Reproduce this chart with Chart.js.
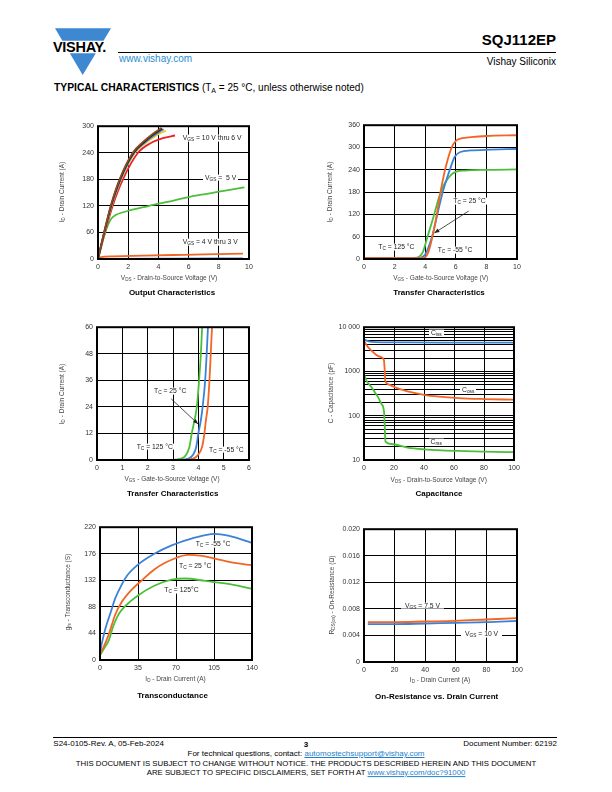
<!DOCTYPE html>
<html>
<head>
<meta charset="utf-8">
<script src="https://cdn.jsdelivr.net/npm/chart.js@4.4.1/dist/chart.umd.min.js"></script>
<style>
  body { margin: 0; width: 612px; height: 792px; position: relative; background: #fff; overflow: hidden;
         font-family: "Liberation Sans", Arial, sans-serif; color: #000; }
  .t { position: absolute; white-space: nowrap; line-height: 1; }
  .c { transform: translate(-50%, -50%); }
  .lc { transform: translateY(-50%); }
  .rc { transform: translate(-100%, -50%); }
  .yt { transform: translate(-50%, -50%) rotate(-90deg); }
  .ax { font-size: 6.5px; color: #444; }
  .cap { font-size: 8px; font-weight: bold; }
  .ann { font-size: 6.8px; color: #222; background: #fff; padding: 0 2px; z-index: 2; }
  sub { font-size: 70%; vertical-align: -0.3em; line-height: 0; }
  canvas { position: absolute; }
  .rule { position: absolute; background: #000; height: 1px; }
  a { color: #1f7fc9; text-decoration: underline; }
</style>
</head>
<body>

<!-- header -->
<svg style="position:absolute;left:0;top:0" width="612" height="100">
  <polygon points="55,28.3 111,28.3 103.5,40.7 62.4,40.7" fill="#3d88d0"/>
  <polygon points="69.8,53.3 95.8,53.3 82.7,75" fill="#3d88d0"/>
</svg>
<div class="t lc" style="left:53px;top:47px;font-size:14.5px;font-weight:bold;letter-spacing:-0.3px">VISHAY.</div>
<div class="rule" style="left:118px;top:52px;width:438px"></div>
<div class="t rc" style="left:556px;top:38.5px;font-size:15px;font-weight:bold">SQJ112EP</div>
<div class="t rc" style="left:556px;top:61.7px;font-size:10px">Vishay Siliconix</div>
<div class="t lc" style="left:119px;top:59px;font-size:10px;color:#2a8dd4">www.vishay.com</div>
<div class="t lc" style="left:54px;top:87.7px;font-size:10px"><b style="font-size:10.3px">TYPICAL CHARACTERISTICS</b> (T<sub>A</sub> = 25 °C, unless otherwise noted)</div>

<!-- charts -->
<canvas id="c1"></canvas>
<canvas id="c2"></canvas>
<canvas id="c3"></canvas>
<canvas id="c4"></canvas>
<canvas id="c5"></canvas>
<canvas id="c6"></canvas>

<!-- chart 1 texts -->
<div class="t yt ax" style="left:62.3px;top:192px">I<sub>D</sub> - Drain Current (A)</div>
<div class="t c ax" style="left:169px;top:278.3px">V<sub>DS</sub> - Drain-to-Source Voltage (V)</div>
<div class="t c cap" style="left:172px;top:293.3px">Output Characteristics</div>
<div class="t lc ann" style="left:180.7px;top:138.3px">V<sub>GS</sub> = 10 V thru 6 V</div>
<div class="t lc ann" style="left:203px;top:177.7px">V<sub>GS</sub> =&nbsp; 5 V</div>
<div class="t lc ann" style="left:180.7px;top:242.3px">V<sub>GS</sub> = 4 V thru 3 V</div>

<!-- chart 2 texts -->
<div class="t yt ax" style="left:329.7px;top:192px">I<sub>D</sub> - Drain Current (A)</div>
<div class="t c ax" style="left:440.7px;top:278.3px">V<sub>GS</sub> - Gate-to-Source Voltage (V)</div>
<div class="t c cap" style="left:439px;top:293.3px">Transfer Characteristics</div>
<div class="t lc ann" style="left:451.3px;top:201px">T<sub>C</sub> = 25 °C</div>
<div class="t lc ann" style="left:376.3px;top:247.3px">T<sub>C</sub> = 125 °C</div>
<div class="t lc ann" style="left:435.7px;top:250px">T<sub>C</sub> = -55 °C</div>

<!-- chart 3 texts -->
<div class="t yt ax" style="left:62.3px;top:394px">I<sub>D</sub> - Drain Current (A)</div>
<div class="t c ax" style="left:172px;top:479.3px">V<sub>GS</sub> - Gate-to-Source Voltage (V)</div>
<div class="t c cap" style="left:172.7px;top:494.3px">Transfer Characteristics</div>
<div class="t lc ann" style="left:152px;top:391px">T<sub>C</sub> = 25 °C</div>
<div class="t lc ann" style="left:134.7px;top:446.7px">T<sub>C</sub> = 125 °C</div>
<div class="t lc ann" style="left:207px;top:449.7px">T<sub>C</sub> = -55 °C</div>

<!-- chart 4 texts -->
<div class="t yt ax" style="left:331px;top:393px">C - Capacitance (pF)</div>
<div class="t c ax" style="left:438.7px;top:479.7px">V<sub>DS</sub> - Drain-to-Source Voltage (V)</div>
<div class="t c cap" style="left:439px;top:494.3px">Capacitance</div>
<div class="t lc ann" style="left:429px;top:333.3px">C<sub>iss</sub></div>
<div class="t lc ann" style="left:460px;top:389.7px">C<sub>oss</sub></div>
<div class="t lc ann" style="left:428.5px;top:441.7px">C<sub>rss</sub></div>

<!-- chart 5 texts -->
<div class="t yt ax" style="left:67.7px;top:592px">g<sub>fs</sub> - Transconductance (S)</div>
<div class="t c ax" style="left:175.5px;top:679px">I<sub>D</sub> - Drain Current (A)</div>
<div class="t c cap" style="left:172.5px;top:696px">Transconductance</div>
<div class="t lc ann" style="left:193.7px;top:544px">T<sub>C</sub> = -55 °C</div>
<div class="t lc ann" style="left:177px;top:565.7px">T<sub>C</sub> = 25 °C</div>
<div class="t lc ann" style="left:162.3px;top:590.3px">T<sub>C</sub> = 125°C</div>

<!-- chart 6 texts -->
<div class="t yt ax" style="left:331.7px;top:595px">R<sub>DS(on)</sub> - On-Resistance (Ω)</div>
<div class="t c ax" style="left:440px;top:680px">I<sub>D</sub> - Drain Current (A)</div>
<div class="t c cap" style="left:436.7px;top:696.7px">On-Resistance vs. Drain Current</div>
<div class="t lc ann" style="left:401px;top:605.7px;padding:0 4px">V<sub>GS</sub> = 7.5 V</div>
<div class="t lc ann" style="left:461px;top:634px;padding:0 4px">V<sub>GS</sub> = 10 V</div>

<!-- footer -->
<div class="rule" style="left:53px;top:737px;width:504px"></div>
<div class="t lc" style="left:53.3px;top:744px;font-size:8px">S24-0105-Rev. A, 05-Feb-2024</div>
<div class="t c" style="left:306px;top:745px;font-size:8px;font-weight:bold">3</div>
<div class="t rc" style="left:557px;top:744px;font-size:8px">Document Number: 62192</div>
<div class="t c" style="left:306px;top:754px;font-size:8px">For technical questions, contact: <a>automostechsupport@vishay.com</a></div>
<div class="t c" style="left:306px;top:764.3px;font-size:7.8px">THIS DOCUMENT IS SUBJECT TO CHANGE WITHOUT NOTICE. THE PRODUCTS DESCRIBED HEREIN AND THIS DOCUMENT</div>
<div class="t c" style="left:306px;top:772.9px;font-size:7.8px">ARE SUBJECT TO SPECIFIC DISCLAIMERS, SET FORTH AT <a>www.vishay.com/doc?91000</a></div>

<script>
// ---- Output characteristics (VDS in V, ID in A) ----
const outVds10 = [0, 0.4, 0.84, 1.43, 2.3, 3.0, 3.6, 4.2];
const outId10 = [0, 60, 120, 180, 240, 265, 282, 296];
const outVds9 = [0, 0.41, 0.86, 1.46, 2.35, 3.05, 3.65, 4.25];
const outId9 = [0, 60, 120, 180, 240, 264, 281, 295];
const outVds8 = [0, 0.42, 0.88, 1.5, 2.4, 3.1, 3.7, 4.35];
const outId8 = [0, 60, 120, 180, 240, 263, 279, 293];
const outVds7 = [0, 0.43, 0.9, 1.53, 2.45, 3.2, 3.8, 4.5];
const outId7 = [0, 60, 120, 180, 240, 263, 278, 290];
const outVds6 = [0, 0.46, 0.97, 1.65, 2.65, 3.5, 4.3, 5.1];
const outId6 = [0, 60, 120, 180, 240, 262, 273, 279];
const outVds5 = [0, 0.3, 0.5, 0.7, 0.9, 1.2, 1.6, 2, 3, 4, 5, 6, 7, 8, 9, 9.7];
const outId5 = [0, 40, 62, 80, 92, 100, 105, 109, 117, 125, 132, 140, 146, 152, 158, 162];
const outVds4 = [0, 0.2, 1, 3, 5, 7, 9.6];
const outId4 = [0, 4, 6, 7.5, 9, 10.5, 12];
const outVds3 = [0, 0.2, 5, 9.6];
const outId3 = [0, 0.5, 1, 1.5];

// ---- Transfer characteristics, full range (VGS in V, ID in A) ----
const trVgsCold = [0, 3.8, 4.0, 4.2, 4.4, 4.6, 4.8, 5.0, 5.3, 5.7, 6.0, 6.4, 7, 8, 10];
const trIdCold = [2, 2, 5, 18, 47, 85, 130, 180, 240, 297, 318, 325, 328, 331, 333];
const trVgsRoom = [0, 3.6, 3.8, 4.0, 4.2, 4.5, 4.85, 5.2, 5.6, 5.93, 6.3, 7, 8, 10];
const trIdRoom = [2, 2, 5, 12, 30, 68, 130, 188, 239, 275, 288, 292, 294, 296];
const trVgsHot = [0, 3.3, 3.6, 3.86, 4.18, 4.51, 4.95, 5.27, 5.71, 6.03, 6.6, 8, 10];
const trIdHot = [3, 3, 6, 20, 64, 109, 172, 203, 227, 235, 238, 240, 241];
const trArrow = { from: [6.84, 129], to: [4.6, 70] };

// ---- Transfer characteristics, low current ----
const lowVgsCold = [0, 3.5, 3.8, 4.0, 4.15, 4.24, 4.3, 4.37, 4.44, 4.49, 4.54, 4.58];
const lowIdCold = [0, 0.1, 0.6, 2.5, 6, 12, 18, 24, 36, 48, 60, 68];
const lowVgsRoom = [0, 3.3, 3.6, 3.8, 3.92, 4.0, 4.1, 4.17, 4.27, 4.33, 4.38, 4.42];
const lowIdRoom = [0, 0.1, 0.6, 2.5, 6, 12, 18, 24, 36, 48, 60, 68];
const lowVgsHot = [0, 3.0, 3.3, 3.5, 3.65, 3.74, 3.85, 3.94, 4.03, 4.1, 4.15, 4.19];
const lowIdHot = [0, 0.1, 0.6, 2, 6, 12, 18, 24, 36, 48, 60, 68];
const lowArrow = { from: [2.93, 27.6], to: [3.99, 16.3] };

// ---- Capacitance (VDS in V, C in pF) ----
const capVdsIss = [0, 3, 8, 20, 50, 100];
const capIss = [5300, 4800, 4600, 4550, 4500, 4480];
const capVdsOss = [0, 2, 5, 8, 11.5, 13.3, 13.7, 14.2, 16, 18.3, 22, 29, 40, 50, 63, 80, 100];
const capOss = [5000, 3800, 2950, 2400, 2100, 1800, 1200, 620, 520, 480, 420, 355, 297, 270, 250, 238, 230];
const capVdsRss = [0, 1.6, 4.9, 7, 9.4, 11.6, 13.4, 13.8, 14.3, 18.3, 29, 40, 63, 100];
const capRss = [890, 630, 445, 350, 263, 185, 120, 60, 26, 23, 19, 17.4, 16, 15];
const capGrid = [10, 20, 30, 40, 50, 60, 70, 80, 90, 100, 200, 300, 400, 500, 600, 700, 800, 900,
                 1000, 2000, 3000, 4000, 5000, 6000, 7000, 8000, 9000, 10000];
const capMajor = [10, 100, 1000, 10000];
const capMajorText = ["10", "100", "1000", "10 000"];

// ---- Transconductance (ID in A, gfs in S) ----
const gfsIdCold = [0, 2, 5, 10, 14, 20, 25, 35, 50, 66, 82, 97, 106, 118, 130, 140];
const gfsCold = [12, 30, 52, 80, 102, 125, 140, 158, 176, 190, 200, 207, 209, 206, 200, 194];
const gfsIdRoom = [0, 3, 8, 14, 20, 29, 38.5, 50, 60, 70, 81, 92, 106, 120, 140];
const gfsRoom = [10, 20, 42, 75, 96, 116, 132, 150, 161, 169, 174, 173, 168, 162, 157];
const gfsIdHot = [0, 4, 8, 12, 16, 20, 28, 35, 50, 66, 78, 97, 118, 140];
const gfsHot = [8, 20, 32, 55, 72, 83, 97, 107, 123, 133, 135, 131, 126, 118];

// ---- On-resistance (ID in A, RDS(on) in ohm) ----
const ronId = [2.5, 20, 40, 60, 80, 100];
const ron75 = [0.0060, 0.0060, 0.0061, 0.0062, 0.0064, 0.0066];
const ron10 = [0.0057, 0.0057, 0.0058, 0.0059, 0.0060, 0.0062];

const FONT = '"Liberation Sans", Arial, sans-serif';
const BLUE = "#3b82d6";
const ORANGE = "#f26522";
const GREEN = "#4cbf3a";
const PAD_L = 40, PAD_R = 12, PAD_T = 8, PAD_B = 16;

function series(xs, ys, color) {
  return {
    data: xs.map((x, i) => ({ x, y: ys[i] })),
    borderColor: color,
    borderWidth: 1.8,
    pointRadius: 0,
    fill: false,
    cubicInterpolationMode: "monotone",
  };
}

function axis(min, max, step, extra) {
  return Object.assign({
    type: "linear",
    min, max,
    ticks: { stepSize: step, color: "#333", font: { size: 7, family: FONT }, padding: 4, maxRotation: 0, autoSkip: false },
    grid: { color: "#000", lineWidth: 1, drawTicks: false },
    border: { display: false },
  }, extra || {});
}

const framePlugin = {
  id: "frame",
  afterDatasetsDraw(chart) {
    const { ctx, chartArea: a } = chart;
    ctx.save();
    ctx.strokeStyle = "#000";
    ctx.lineWidth = 2;
    ctx.strokeRect(a.left, a.top, a.right - a.left, a.bottom - a.top);
    ctx.restore();
  },
};

const arrowPlugin = {
  id: "arrow",
  afterDatasetsDraw(chart, args, opts) {
    if (!opts || !opts.from) return;
    const { ctx } = chart;
    const xs = chart.scales.x, ys = chart.scales.y;
    const x1 = xs.getPixelForValue(opts.from[0]), y1 = ys.getPixelForValue(opts.from[1]);
    const x2 = xs.getPixelForValue(opts.to[0]), y2 = ys.getPixelForValue(opts.to[1]);
    const ang = Math.atan2(y2 - y1, x2 - x1);
    ctx.save();
    ctx.strokeStyle = "#222";
    ctx.fillStyle = "#222";
    ctx.lineWidth = 0.8;
    ctx.beginPath();
    ctx.moveTo(x1, y1);
    ctx.lineTo(x2, y2);
    ctx.stroke();
    ctx.beginPath();
    ctx.moveTo(x2, y2);
    ctx.lineTo(x2 - 5 * Math.cos(ang) + 2 * Math.sin(ang), y2 - 5 * Math.sin(ang) - 2 * Math.cos(ang));
    ctx.lineTo(x2 - 5 * Math.cos(ang) - 2 * Math.sin(ang), y2 - 5 * Math.sin(ang) + 2 * Math.cos(ang));
    ctx.closePath();
    ctx.fill();
    ctx.restore();
  },
};

function makeChart(id, box, datasets, xAxis, yAxis, arrow) {
  const cv = document.getElementById(id);
  const w = box.r - box.l + PAD_L + PAD_R;
  const h = box.b - box.t + PAD_T + PAD_B;
  cv.width = w;
  cv.height = h;
  cv.style.width = w + "px";
  cv.style.height = h + "px";
  cv.style.left = (box.l - PAD_L) + "px";
  cv.style.top = (box.t - PAD_T) + "px";
  xAxis.afterFit = (s) => { s.height = PAD_B; };
  yAxis.afterFit = (s) => { s.width = PAD_L; };
  return new Chart(cv, {
    type: "line",
    data: { datasets },
    options: {
      responsive: false,
      animation: false,
      devicePixelRatio: 1,
      layout: { padding: { top: PAD_T, right: PAD_R, left: 0, bottom: 0 } },
      plugins: { legend: { display: false }, tooltip: { enabled: false }, arrow: arrow || {} },
      scales: { x: xAxis, y: yAxis },
    },
    plugins: [framePlugin, arrowPlugin],
  });
}

makeChart("c1", { l: 98, r: 249, t: 126, b: 259 }, [
  series(outVds10, outId10, "#8a4a22"),
  series(outVds9, outId9, "#1a1a1a"),
  series(outVds8, outId8, BLUE),
  series(outVds7, outId7, "#f7c51e"),
  series(outVds6, outId6, "#e8232a"),
  series(outVds5, outId5, GREEN),
  series(outVds4, outId4, ORANGE),
  series(outVds3, outId3, BLUE),
], axis(0, 10, 2), axis(0, 300, 60));

makeChart("c2", { l: 364, r: 517, t: 125, b: 259 }, [
  series(trVgsCold, trIdCold, ORANGE),
  series(trVgsRoom, trIdRoom, BLUE),
  series(trVgsHot, trIdHot, GREEN),
], axis(0, 10, 2), axis(0, 360, 60), trArrow);

makeChart("c3", { l: 97, r: 249, t: 327, b: 460 }, [
  series(lowVgsCold, lowIdCold, ORANGE),
  series(lowVgsRoom, lowIdRoom, BLUE),
  series(lowVgsHot, lowIdHot, GREEN),
], axis(0, 6, 1), axis(0, 60, 12), lowArrow);

makeChart("c4", { l: 364, r: 514, t: 327, b: 460 }, [
  series(capVdsIss, capIss, BLUE),
  series(capVdsOss, capOss, ORANGE),
  series(capVdsRss, capRss, GREEN),
], axis(0, 100, 20), {
  type: "logarithmic",
  min: 10, max: 10000,
  afterBuildTicks: (s) => { s.ticks = capGrid.map((v) => ({ value: v })); },
  ticks: {
    color: "#333", font: { size: 7, family: FONT }, padding: 4, autoSkip: false,
    callback: (v) => { const i = capMajor.indexOf(v); return i >= 0 ? capMajorText[i] : ""; },
  },
  grid: { color: "#000", lineWidth: 1, drawTicks: false },
  border: { display: false },
});

makeChart("c5", { l: 100, r: 252, t: 527, b: 660 }, [
  series(gfsIdCold, gfsCold, BLUE),
  series(gfsIdRoom, gfsRoom, ORANGE),
  series(gfsIdHot, gfsHot, GREEN),
], axis(0, 140, 35), axis(0, 220, 44));

const ronY = axis(0, 0.02, 0.004);
ronY.ticks.callback = (v) => (v === 0 ? "0" : v.toFixed(3));
makeChart("c6", { l: 364, r: 517, t: 529, b: 662 }, [
  series(ronId, ron75, ORANGE),
  series(ronId, ron10, BLUE),
], axis(0, 100, 20), ronY);
</script>
</body>
</html>
